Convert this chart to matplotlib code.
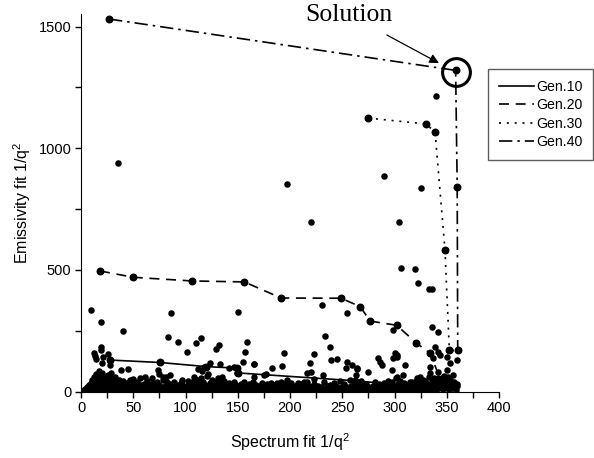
import matplotlib
matplotlib.use('Agg')
import matplotlib.pyplot as plt
from matplotlib.ticker import MultipleLocator

plt.rcParams['font.family'] = ['Liberation Sans', 'DejaVu Sans']
plt.rcParams['mathtext.fontset'] = 'custom'
plt.rcParams['mathtext.rm'] = 'Liberation Sans'
plt.rcParams['mathtext.it'] = 'Liberation Sans'

# population: dense band near zero
band_x = [3, 4, 5, 6, 6, 7, 8, 8, 9, 10, 10, 11, 11, 12, 12, 13, 13, 14, 14, 15, 15, 16, 16, 17, 17,
          18, 18, 19, 19, 20, 20, 21, 22, 22, 23, 23, 24, 25, 25, 26, 26, 27, 28, 28, 29, 30, 30, 31,
          32, 33, 34, 34, 35, 36, 37, 38, 39, 40, 41, 42, 43, 44, 45, 46, 47, 48, 49, 50, 51, 52, 53,
          54, 55, 56, 57, 58, 59, 60, 61, 62, 63, 64, 65, 66, 67, 68, 69, 70, 71, 72, 73, 74, 75, 76,
          77, 78, 79, 80, 81, 82, 83, 84, 85, 86, 87, 88, 89, 90, 91, 92, 93, 94, 95, 96, 97, 98, 99,
          100, 101, 102, 103, 104, 105, 106, 107, 108, 109, 110, 111, 112, 113, 114, 115, 116, 117,
          118, 119, 120, 121, 122, 123, 124, 125, 126, 127, 128, 129, 130, 131, 132, 133, 134, 135,
          136, 137, 138, 139, 140, 141, 142, 143, 144, 145, 146, 147, 148, 149, 150, 151, 152, 153,
          154, 155, 156, 157, 158, 159, 160, 161, 162, 163, 164, 165, 166, 167, 168, 169, 170, 171,
          172, 173, 174, 175, 176, 177, 178, 179, 180, 182, 183, 184, 185, 186, 187, 188, 189, 190,
          191, 193, 194, 195, 196, 198, 199, 200, 201, 202, 203, 205, 206, 207, 209, 210, 211, 212,
          214, 215, 216, 217, 218, 219, 221, 222, 223, 224, 226, 227, 228, 230, 231, 232, 233, 234,
          235, 236, 238, 239, 240, 241, 242, 243, 244, 246, 247, 248, 249, 250, 251, 252, 254, 255,
          256, 257, 258, 259, 260, 262, 263, 264, 265, 266, 267, 268, 269, 270, 271, 272, 273, 274,
          276, 277, 278, 279, 280, 281, 282, 283, 284, 285, 286, 288, 289, 290, 291, 292, 293, 294,
          295, 296, 297, 298, 299, 300, 301, 302, 303, 304, 305, 306, 307, 308, 309, 310, 311, 312,
          313, 314, 315, 316, 317, 318, 319, 320, 321, 322, 323, 324, 325, 326, 327, 328, 329, 330,
          331, 332, 333, 334, 335, 336, 337, 338, 339, 340, 341, 342, 343, 344, 345, 346, 347, 348,
          349, 350, 351, 352, 353, 354, 355, 356, 357, 358, 359, 360]
band_y = [5, 12, 3, 20, 8, 15, 2, 28, 10, 35, 4, 18, 50, 8, 62, 25, 40, 6, 72, 15, 55, 30, 3, 45, 85,
          12, 65, 22, 38, 5, 78, 50, 14, 30, 60, 8, 20, 42, 3, 70, 25, 10, 55, 35, 18, 6, 45, 28,
          12, 60, 4, 38, 20, 50, 9, 30, 15, 42, 5, 25, 12, 35, 8, 20, 48, 3, 16, 30, 10, 22, 5,
          40, 14, 2, 26, 8, 18, 32, 6, 12, 45, 20, 4, 28, 10, 15, 35, 5, 22, 12, 40, 8, 28, 3,
          18, 50, 10, 25, 6, 38, 15, 4, 30, 12, 22, 7, 40, 16, 3, 28, 10, 20, 5, 34, 14, 8, 25,
          3, 18, 45, 10, 28, 5, 38, 15, 60, 22, 8, 48, 30, 12, 3, 55, 20, 40, 8, 28, 15, 65,
          5, 35, 18, 48, 10, 25, 3, 40, 14, 55, 22, 8, 30, 4, 18, 42, 10, 25, 6, 16, 35, 3,
          22, 12, 40, 8, 28, 15, 4, 20, 10, 30, 5, 18, 38, 8, 25, 3, 15, 32, 10, 22, 5, 40,
          14, 28, 6, 18, 3, 25, 12, 35, 8, 20, 4, 15, 30, 10, 22, 5, 14, 28, 8, 18, 3, 35,
          12, 25, 6, 18, 10, 30, 4, 22, 12, 6, 35, 15, 3, 25, 10, 18, 5, 30, 14, 8, 22, 4,
          40, 12, 25, 6, 18, 10, 32, 4, 15, 25, 8, 20, 3, 12, 38, 6, 22, 14, 28, 5, 18, 10,
          35, 3, 25, 8, 15, 45, 5, 20, 12, 30, 4, 18, 8, 50, 25, 14, 3, 20, 8, 35, 12, 25,
          5, 42, 15, 3, 22, 10, 30, 6, 18, 12, 3, 25, 8, 40, 15, 22, 4, 30, 10, 20, 5, 35,
          12, 25, 8, 45, 15, 3, 28, 40, 10, 20, 55, 5, 30, 14, 45, 8, 25, 3, 35, 18, 10, 28,
          4, 22, 40, 8, 15, 32, 5, 25, 12, 48, 20, 6, 35, 15, 28, 8, 45, 18, 4, 30, 60, 12,
          25, 40, 8, 55, 20, 5, 35, 80, 15, 48, 28, 10, 65, 38, 18, 90, 25, 8, 50, 30, 15,
          70, 40, 20, 6, 32]

# population: scattered points above the band
pts_x = [9.8, 18.8, 40.3, 86.6, 83.4, 93, 101, 109.6, 114.5, 150, 129.5, 132.2, 158.8, 157,
         155.3, 194.4, 192.5, 183, 165.6, 12.5, 13.5, 14.7, 19.2, 19.5, 21, 20.5, 26.3, 27.6,
         28.4, 38, 44.5, 73.8, 74.3, 85, 78, 112, 116, 121.5, 123.2, 117.7, 133, 142, 146.4,
         148.9, 165.9, 165.9, 176.8, 175.4, 181.5, 191.4, 197.4, 135.2, 133.9, 49.8, 56.1, 61,
         67.9, 81.6, 96.7, 216.6, 219.2, 223, 233.5, 238.3, 238.9, 244.6, 231.2, 223.4, 213.7,
         208, 254.2, 253.3, 259, 263.8, 230.3, 254.8, 220.5, 196.8, 35.7, 290, 325.6, 304.5,
         306, 319.8, 322.8, 333, 335.5, 339.7, 335.6, 341.9, 298.8, 264.4, 263.2, 274.9, 286.1,
         287.7, 283.9, 298.9, 300.5, 302.1, 297.3, 310, 308.4, 302.1, 316.5, 321.2, 324.4, 334,
         337.2, 338.8, 342, 343.6, 350, 353.2, 359.6, 353.2, 351.6, 345.2, 342, 334, 327.6,
         302, 219.8, 356.4, 359.6]
pts_y = [337, 285, 250, 322, 226, 203, 164, 201, 222, 326, 175, 190, 203, 164,
         121, 161, 106, 96, 113, 159, 147, 134, 185, 172, 141, 117, 153, 110,
         75, 90, 92, 89, 73, 70, 62, 92, 87, 73, 117, 100, 112, 97, 103,
         77, 114, 62, 72, 69, 37, 39, 48, 62, 41, 54, 55, 59,
         55, 62, 48, 78, 116, 153, 230, 182, 130, 133, 68, 54, 40,
         34, 123, 96, 109, 93, 356, 325, 698, 852, 941, 888, 835, 697,
         509, 503, 445, 423, 423, 1216, 267, 246, 253, 96, 69, 82, 123,
         110, 137, 137, 158, 151, 89, 110, 69, 62, 41, 55, 62, 103,
         137, 185, 164, 151, 144, 171, 130, 116, 62, 55, 55, 75, 48,
         144, 82, 34, 23]

# best individual of each generation traced through the front
gen10_x = [27.8, 75.5, 120, 149, 150.5, 262, 295, 322]
gen10_y = [130, 120, 103, 97, 77, 45, 32, 22]
gen20_x = [18.2, 50, 106, 156.3, 191.4, 248.8, 267, 276.8, 302, 321, 334, 344]
gen20_y = [496, 470, 455, 451, 385, 384, 350, 290, 273, 200, 158, 50]
gen30_x = [274.8, 329.8, 338.8, 348.3, 352.5]
gen30_y = [1124, 1100, 1068, 582, 170]
gen40_x = [26.8, 358.5, 360, 360.5]
gen40_y = [1531, 1320, 842, 171]

fig = plt.figure(figsize=(5.94, 4.58), dpi=100)
ax = fig.add_axes([81 / 594, 1 - 391.7 / 458, 418 / 594, 377.3 / 458])

dot = dict(color='black', s=22, linewidths=0, zorder=3)
ax.scatter(band_x, band_y, **dot)
ax.scatter(pts_x, pts_y, **dot)

lw = 1.2
l10, = ax.plot(gen10_x, gen10_y, color='black', lw=lw, marker='o', ms=4.7, label='Gen.10')
l20, = ax.plot(gen20_x, gen20_y, color='black', lw=lw, dashes=(6, 4), marker='o', ms=4.7, label='Gen.20')
l30, = ax.plot(gen30_x, gen30_y, color='black', lw=lw, dashes=(1.2, 3.5), marker='o', ms=4.7, label='Gen.30')
l40, = ax.plot(gen40_x, gen40_y, color='black', lw=lw, dashes=(8, 3, 1.5, 3), marker='o', ms=4.7, label='Gen.40')

# solution marker and annotation
ax.plot([358.5], [1312], marker='o', ms=20, mfc='none', mec='black', mew=2.2, clip_on=False, zorder=4)
ax.annotate('Solution', xy=(342.6, 1350), xytext=(256.5, 1549),
            fontsize=18.5, family='Liberation Serif', ha='center', va='center',
            arrowprops=dict(arrowstyle='-|>', color='black', lw=0.9, mutation_scale=14,
                            shrinkA=10, shrinkB=0),
            annotation_clip=False)

ax.set_xlim(0, 400)
ax.set_ylim(0, 1550)
ax.xaxis.set_major_locator(MultipleLocator(50))
ax.xaxis.set_minor_locator(MultipleLocator(25))
ax.yaxis.set_major_locator(MultipleLocator(500))
ax.yaxis.set_minor_locator(MultipleLocator(250))
ax.tick_params(which='both', direction='out', length=4, width=1, labelsize=10.5, pad=3)
ax.spines['top'].set_visible(False)
ax.spines['right'].set_visible(False)

ax.set_xlabel('Spectrum fit 1/q$^2$', fontsize=11.5, va='center')
ax.set_ylabel('Emissivity fit 1/q$^2$', fontsize=11.5, va='center')
ax.xaxis.set_label_coords(0.5, -0.1325)
ax.yaxis.set_label_coords(-0.141, 0.5)

leg = fig.legend(handles=[l10, l20, l30, l40], loc='upper left',
                 bbox_to_anchor=(488 / 594, 1 - 69 / 458), fontsize=10.2,
                 handlelength=2.5, handletextpad=0.15, labelspacing=0.32,
                 fancybox=False, frameon=True, borderpad=0.75, borderaxespad=0)
for h in leg.legend_handles:
    h.set_marker('')
leg.get_frame().set_edgecolor('#333333')
leg.get_frame().set_linewidth(1.0)

fig.savefig('out.png', dpi=100)
